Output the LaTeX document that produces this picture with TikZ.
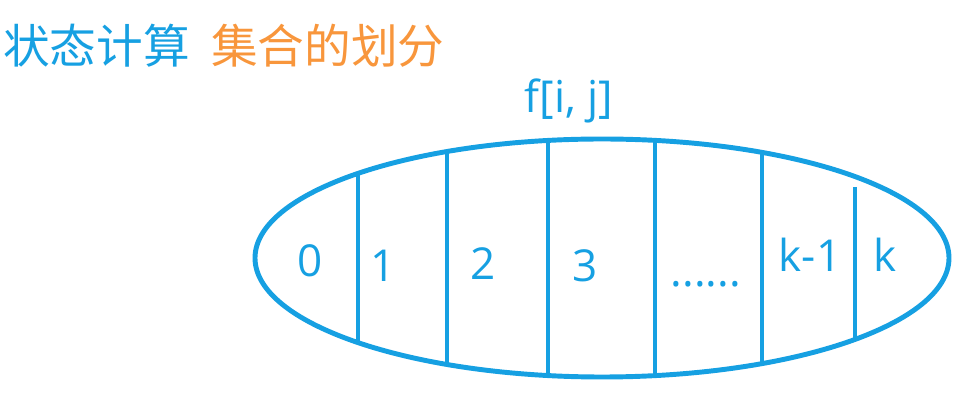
\documentclass[tikz,border=0pt]{standalone}
\usepackage{fontspec}
\setmainfont{Open Sans}
\newfontfamily\cjkfont{Noto Sans CJK SC}
\definecolor{skyblue}{RGB}{22,160,226}
\definecolor{titleorange}{RGB}{248,150,60}
\begin{document}
\begin{tikzpicture}[x=0.75pt,y=-0.75pt,
  part/.style={line width=3.7pt,draw=skyblue},
  lbl/.style={text=skyblue,font=\fontsize{33}{36}\selectfont,inner sep=0pt,anchor=base},
  ttl/.style={font=\cjkfont\fontsize{35}{40}\selectfont,inner sep=0pt,anchor=west}]
\useasboundingbox (0,0) rectangle (968,402);
% title
\node[ttl,text=skyblue] (t1) at (3,46) {状态计算};
\node[ttl,text=titleorange] (t2) at (211,46) {集合的划分};
% set label
\node[lbl,anchor=center] (f) at (569,101) {f[i, j]};
% partitions
\begin{scope}
  \clip (602,258) ellipse [x radius=347, y radius=119];
  \draw[part] (358,100) -- (358,400);
  \draw[part] (447,100) -- (447,400);
  \draw[part] (548,100) -- (548,400);
  \draw[part] (655,100) -- (655,400);
  \draw[part] (762,100) -- (762,400);
  \draw[part] (855,187) -- (855,400);
\end{scope}
\draw[part] (602,258) ellipse [x radius=347, y radius=119];
% labels
\node[lbl] (l0) at (310,277) {0};
\node[lbl] (l1) at (383,282) {1};
\node[lbl] (l2) at (483,280) {2};
\node[lbl] (l3) at (585,282) {3};
\node[lbl] (ld) at (706,287) {......};
\node[lbl] (lk1) at (810,272) {k-1};
\node[lbl] (lk) at (885,272) {k};
\end{tikzpicture}
\end{document}
